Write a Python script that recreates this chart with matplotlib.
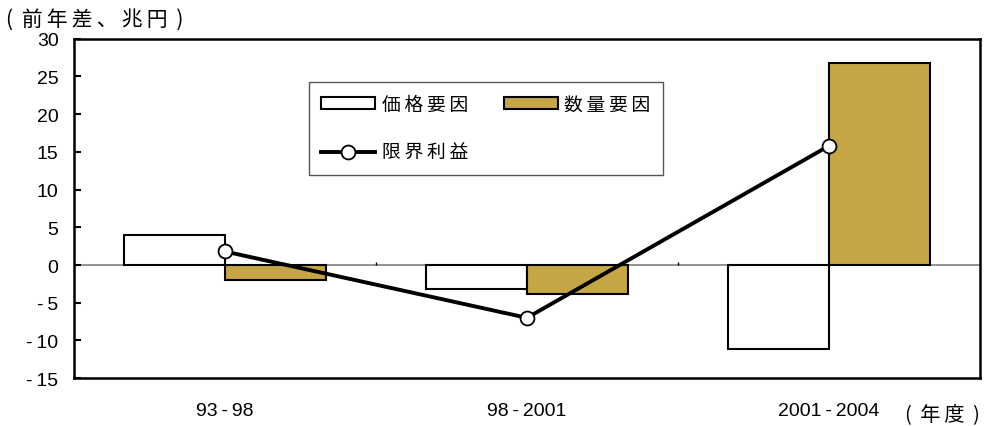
import matplotlib.pyplot as plt
import numpy as np

plt.rcParams['font.family'] = ['Liberation Sans', 'Noto Sans CJK JP', 'DejaVu Sans']

# 前年差（兆円）
periods = ['93-98', '98-2001', '2001-2004']
price_factor = [4.0, -3.2, -11.1]
volume_factor = [-2.0, -3.9, 26.8]
marginal_profit = [1.8, -7.0, 15.8]

gold = '#C6A545'
x = np.arange(len(periods))
w = 1 / 3
ts = '\u2009'
cjk = ['Noto Sans CJK JP', 'DejaVu Sans']


def spaced(s):
    return ts.join(s)


fig = plt.figure(figsize=(9.84, 4.27), dpi=100)
ax = fig.add_axes([0.075, 0.112, 0.921, 0.795])

ax.axhline(0, color='#808080', lw=1.2, zorder=1)
ax.bar(x - w / 2, price_factor, w, color='white', edgecolor='black', lw=1.5,
       label='価格要因', zorder=2)
ax.bar(x + w / 2, volume_factor, w, color=gold, edgecolor='black', lw=1.5,
       label='数量要因', zorder=2)
ax.plot(x, marginal_profit, color='black', lw=2.8, marker='o', ms=10,
        mfc='white', mec='black', mew=1.3, label='限界利益', zorder=3)

# category separators on the zero line
ax.vlines(x[:-1] + 0.5, 0, 0.45, color='black', lw=1, zorder=1)

ax.set_xlim(-0.5, len(periods) - 0.5)
ax.set_ylim(-15, 30)
yt = list(range(-15, 31, 5))
ax.set_yticks(yt)
ax.set_yticklabels([str(v).replace('-', '-' + ts) for v in yt], fontsize=14)
ax.set_xticks(x)
ax.set_xticklabels([p.replace('-', ts + '-' + ts) for p in periods], fontsize=14)
ax.tick_params(axis='x', length=0, pad=17)
ax.tick_params(axis='y', direction='in', length=5, width=1.5, pad=11)
for s in ax.spines.values():
    s.set_linewidth(1.8)

h, l = ax.get_legend_handles_labels()
# handles come back as [line, price, volume]
order = [1, 0, 2]
leg = ax.legend([h[i] for i in order], [spaced(l[i]) for i in order], ncol=2,
                loc='upper left', bbox_to_anchor=(0.259, 0.873), borderaxespad=0,
                fancybox=False, edgecolor='#555555', framealpha=1,
                handlelength=2.9, handleheight=0.6, columnspacing=1.9,
                labelspacing=1.45, borderpad=0.65, handletextpad=0.35,
                prop={'family': cjk, 'size': 13.5})
leg.get_frame().set_linewidth(1.0)

fig.text(0.006, 0.953, '(' + ts + ' ' + spaced('前年差、兆円') + ' ' + ts + ')',
         fontsize=15, family=cjk, va='center', ha='left')
fig.text(0.996, 0.030, '(' + ts + ' ' + spaced('年度') + ' ' + ts + ')',
         fontsize=14.5, family=cjk, va='center', ha='right')

fig.savefig('out.png', dpi=100)
